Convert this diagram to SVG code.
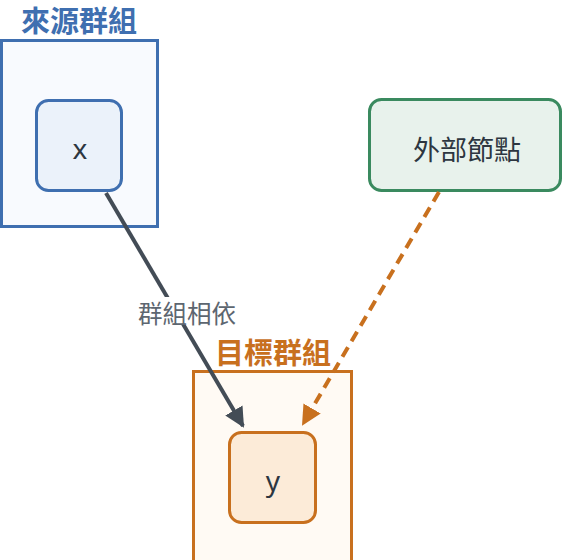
<svg xmlns="http://www.w3.org/2000/svg" width="562" height="560" viewBox="0 0 562 560">
<style>
.title{font-family:"Noto Sans CJK TC","Noto Sans CJK SC",sans-serif;font-weight:bold;font-size:29px}
.lbl{font-family:"Noto Sans","Noto Sans CJK TC",sans-serif;font-size:28px;fill:#2d3640;text-anchor:middle}
.clbl{font-family:"Noto Sans CJK TC",sans-serif;font-size:27px;fill:#2d3640;text-anchor:middle;dominant-baseline:central}
.elbl{font-family:"Noto Sans CJK TC",sans-serif;font-size:24.5px;fill:#5d6670;text-anchor:middle;dominant-baseline:central}
</style>
<defs>
<marker id="ah1" viewBox="0 0 10 10" refX="9" refY="5" markerWidth="5" markerHeight="5" orient="auto" markerUnits="strokeWidth">
<path d="M0,0 L10,5 L0,10 Z" fill="#434c56"/>
</marker>
<marker id="ah2" viewBox="0 0 10 10" refX="9" refY="5" markerWidth="5" markerHeight="5" orient="auto" markerUnits="strokeWidth">
<path d="M0,0 L10,5 L0,10 Z" fill="#c8701e"/>
</marker>
</defs>
<g id="group-source">
<rect x="1.5" y="40.5" width="156" height="186" fill="#f8fafe" stroke="#3f6fb0" stroke-width="3"/>
<text class="title" x="21" y="32" fill="#3f6fb0">來源群組</text>
</g>
<g id="group-target">
<rect x="193.5" y="371.5" width="158" height="200" fill="#fffaf4" stroke="#c8701e" stroke-width="3"/>
<text class="title" x="215" y="364" fill="#c8701e">目標群組</text>
</g>
<g id="node-x">
<rect x="36.5" y="100.5" width="85" height="90" rx="12" fill="#ebf2fa" stroke="#3f6fb0" stroke-width="3"/>
<text class="lbl" x="80" y="159">x</text>
</g>
<g id="node-y">
<rect x="229.5" y="432.5" width="86" height="90" rx="12" fill="#fcebd8" stroke="#c8701e" stroke-width="3"/>
<text class="lbl" x="273" y="491">y</text>
</g>
<g id="node-ext">
<rect x="369.5" y="99.5" width="191" height="91" rx="12" fill="#e8f2ec" stroke="#3a8a5f" stroke-width="3"/>
<text class="clbl" x="467" y="148">外部節點</text>
</g>
<g id="connectors">
<line x1="106" y1="193" x2="243" y2="426" stroke="#434c56" stroke-width="4" marker-end="url(#ah1)"/>
<rect x="132" y="297" width="110" height="28" fill="#ffffff"/>
<text class="elbl" x="187" y="312">群組相依</text>
<line x1="439" y1="192" x2="303" y2="424" stroke="#c8701e" stroke-width="4" stroke-dasharray="11 7" marker-end="url(#ah2)"/>
</g>
</svg>
